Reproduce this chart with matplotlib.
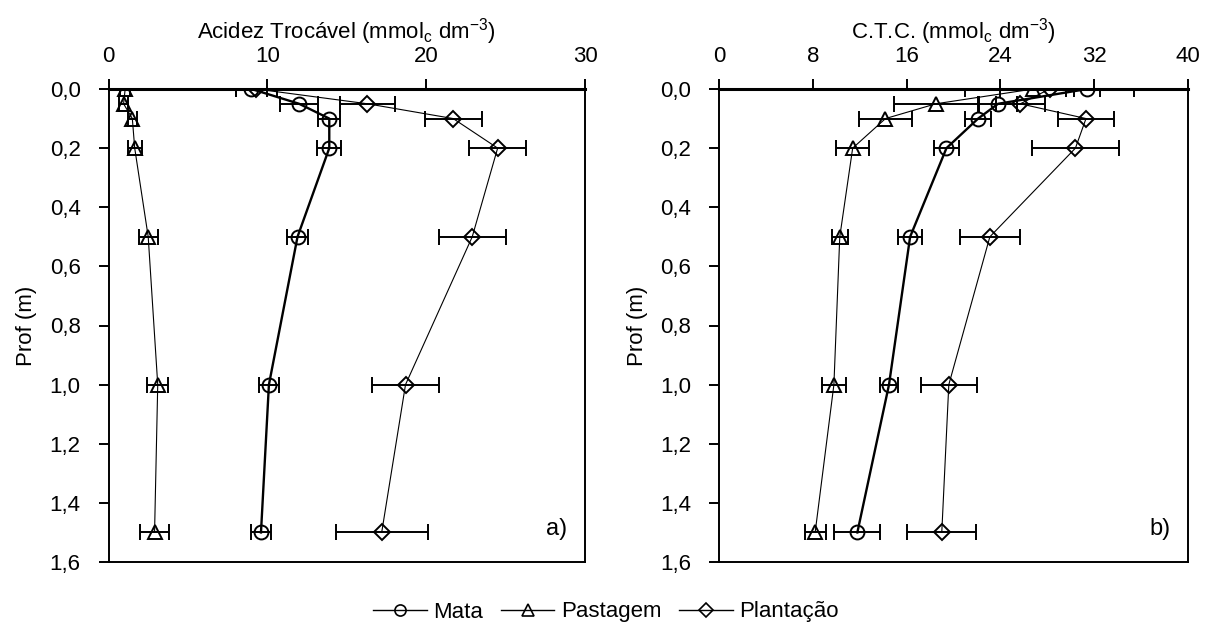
import matplotlib
matplotlib.use("Agg")
import matplotlib.pyplot as plt
from matplotlib.lines import Line2D

plt.rcParams['font.family'] = ['Liberation Sans', 'DejaVu Sans']
plt.rcParams['axes.unicode_minus'] = False

depth = [0.0, 0.05, 0.1, 0.2, 0.5, 1.0, 1.5]

# Panel a) Acidez trocável
acid_mata = [9.0, 12.0, 13.9, 13.9, 11.9, 10.1, 9.6]
acid_mata_err = [1.0, 1.2, 0.7, 0.75, 0.65, 0.65, 0.6]
acid_past = [1.05, 0.95, 1.5, 1.65, 2.5, 3.1, 2.9]
acid_past_err = [0.3, 0.3, 0.3, 0.45, 0.6, 0.65, 0.9]
acid_plan = [9.3, 16.3, 21.7, 24.5, 22.9, 18.7, 17.2]
acid_plan_err = [1.3, 1.75, 1.8, 1.8, 2.1, 2.1, 2.9]

# Panel b) C.T.C.
ctc_mata = [31.4, 23.8, 22.1, 19.4, 16.3, 14.5, 11.8]
ctc_mata_err = [1.1, 1.6, 1.1, 1.1, 1.0, 0.8, 1.95]
ctc_past = [26.8, 18.5, 14.2, 11.4, 10.3, 9.8, 8.2]
ctc_past_err = [2.8, 3.55, 2.3, 1.4, 0.7, 1.0, 0.9]
ctc_plan = [28.2, 25.7, 31.3, 30.4, 23.1, 19.6, 19.0]
ctc_plan_err = [7.2, 2.1, 2.4, 3.7, 2.55, 2.4, 2.95]

series_names = ['Mata', 'Pastagem', 'Plantação']
yticks = [0.0, 0.2, 0.4, 0.6, 0.8, 1.0, 1.2, 1.4, 1.6]

fig = plt.figure(figsize=(12.12, 6.3), dpi=100)
axa = fig.add_axes([108.5/1212, 68/630, 476.5/1212, 473/630])
axb = fig.add_axes([719/1212, 68/630, 469/1212, 473/630])

styles = [
    dict(marker='o', ms=10, lw=1.7),
    dict(marker='^', ms=10, lw=0.8),
    dict(marker='D', ms=8.5, lw=0.8),
]

def draw(ax, data, xmax, xticks, xlabel, tag):
    for (vals, errs), st in zip(data, styles):
        ax.errorbar(vals, depth, xerr=errs, fmt='none', ecolor='black',
                    elinewidth=1.4, capsize=6, capthick=1.4, zorder=2)
        ax.plot(vals, depth, color='black', lw=st['lw'], marker=st['marker'],
                ms=st['ms'], mfc='none', mec='black', mew=1.4, zorder=3)
    ax.set_xlim(0, xmax)
    ax.set_ylim(1.6, 0.0)
    ax.xaxis.tick_top()
    ax.xaxis.set_label_position('top')
    ax.set_xticks(xticks)
    ax.set_yticks(yticks)
    ax.set_yticklabels([f"{v:.1f}".replace('.', ',') for v in yticks])
    ax.tick_params(axis='both', direction='out', length=7, width=1.4,
                   labelsize=16, colors='black')
    ax.tick_params(axis='x', pad=9)
    ax.tick_params(axis='y', pad=13)
    ax.set_xlabel(xlabel, fontsize=16, labelpad=5)
    ax.set_ylabel('Prof (m)', fontsize=16, labelpad=9)
    for s in ['left', 'right', 'bottom']:
        ax.spines[s].set_linewidth(1.4)
    ax.spines['top'].set_linewidth(2.2)
    ax.text(0.962, 0.07, tag, transform=ax.transAxes, ha='right', va='center',
            fontsize=17)

draw(axa, [(acid_mata, acid_mata_err), (acid_past, acid_past_err),
           (acid_plan, acid_plan_err)], 30, [0, 10, 20, 30],
     'Acidez Trocável (mmol$_\\mathregular{c}$ dm$^\\mathregular{-3}$)', 'a)')
draw(axb, [(ctc_mata, ctc_mata_err), (ctc_past, ctc_past_err),
           (ctc_plan, ctc_plan_err)], 40, [0, 8, 16, 24, 32, 40],
     'C.T.C. (mmol$_\\mathregular{c}$ dm$^\\mathregular{-3}$)', 'b)')

handles = [Line2D([], [], color='black', lw=1.0, marker=st['marker'],
                  ms=st['ms'] * 0.8, mfc='none', mec='black', mew=1.2)
           for st in styles]
fig.legend(handles, series_names, loc='center', bbox_to_anchor=(0.5, 18/630),
           ncol=3, frameon=False, fontsize=16, handlelength=2.4,
           handletextpad=0.3, columnspacing=0.8)

fig.savefig('out.png', dpi=100)
